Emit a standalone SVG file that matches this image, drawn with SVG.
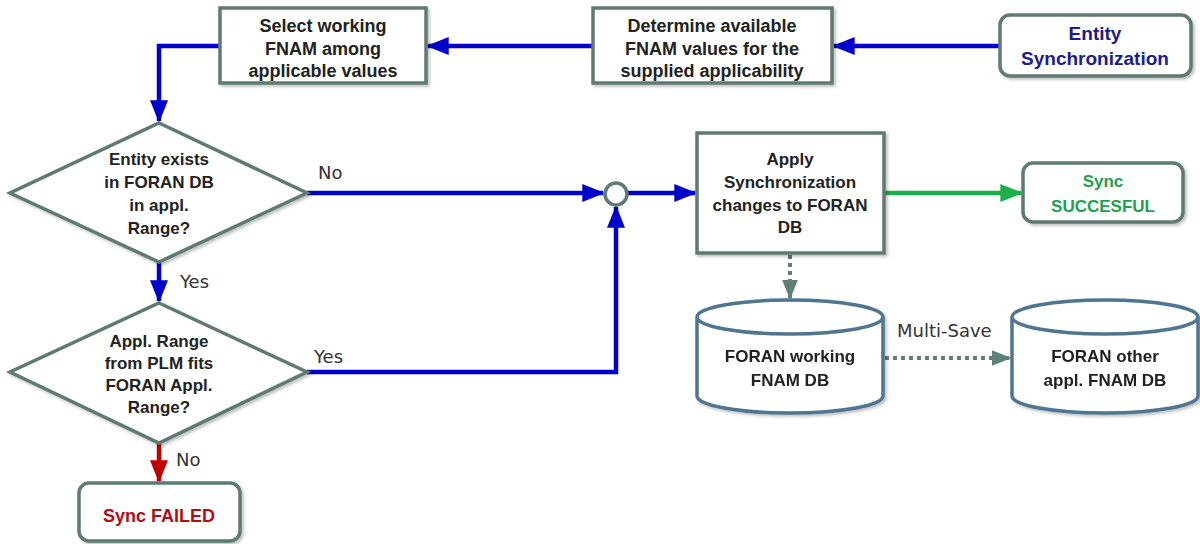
<svg xmlns="http://www.w3.org/2000/svg" width="1200" height="544" viewBox="0 0 1200 544">
<defs>
  <filter id="sh" x="-10%" y="-10%" width="130%" height="130%">
    <feDropShadow dx="2" dy="2" stdDeviation="1.5" flood-color="#000" flood-opacity="0.25"/>
  </filter>
  <marker id="ab" markerWidth="5" markerHeight="4" refX="4.6" refY="2" orient="auto" markerUnits="strokeWidth">
    <path d="M0,0 L5,2 L0,4 Z" fill="#0000cc"/>
  </marker>
  <marker id="ag" markerWidth="5" markerHeight="4" refX="4.6" refY="2" orient="auto" markerUnits="strokeWidth">
    <path d="M0,0 L5,2 L0,4 Z" fill="#1ab04a"/>
  </marker>
  <marker id="ar" markerWidth="5" markerHeight="4" refX="4.6" refY="2" orient="auto" markerUnits="strokeWidth">
    <path d="M0,0 L5,2 L0,4 Z" fill="#c00000"/>
  </marker>
  <marker id="ad" markerWidth="5" markerHeight="4" refX="4.6" refY="2" orient="auto" markerUnits="strokeWidth">
    <path d="M0,0 L5,2 L0,4 Z" fill="#5f7f78"/>
  </marker>
</defs>
<style>
  .box { fill: #fff; stroke: #5f7a72; stroke-width: 3.5; filter: url(#sh); }
  .cyl { fill: #fff; stroke: #4f7590; stroke-width: 3.5; }
  .t { font-family: "Liberation Sans", Arial, sans-serif; font-weight: bold; font-size: 17px; fill: #222; text-anchor: middle; }
  .t18 { font-size: 18px; }
  .lbl { font-family: "DejaVu Sans", Verdana, sans-serif; font-size: 18px; fill: #333; }
  .blue { fill: none; stroke: #0000cc; stroke-width: 4.5; marker-end: url(#ab); }
  .green { fill: none; stroke: #1ab04a; stroke-width: 4.5; marker-end: url(#ag); }
  .red { fill: none; stroke: #c00000; stroke-width: 4.5; marker-end: url(#ar); }
  .dot { fill: none; stroke: #5f7f78; stroke-width: 4; stroke-dasharray: 4 4; marker-end: url(#ad); }
</style>

<g id="connectors">
  <path class="blue" d="M1000,46 L834,46"/>
  <path class="blue" d="M593,46 L428,46"/>
  <path class="blue" d="M220,46 L159,46 L159,121"/>
  <path class="blue" d="M159,262 L159,301"/>
  <path class="red" d="M159,443 L159,481"/>
  <path class="blue" d="M307,193 L603,193"/>
  <path class="blue" d="M307,372 L616,372 L616,207"/>
  <path class="blue" d="M627,193 L695,193"/>
  <path class="green" d="M884,193 L1021,193"/>
  <path class="dot" d="M790,255 L790,298"/>
  <path class="dot" d="M885,358 L1010,358"/>
  <text class="lbl" x="318" y="179">No</text>
  <text class="lbl" x="180" y="288">Yes</text>
  <text class="lbl" x="314" y="363">Yes</text>
  <text class="lbl" x="176" y="466">No</text>
  <text class="lbl" x="897" y="337">Multi-Save</text>
</g>

<g id="entity-sync">
  <rect class="box" x="1000" y="15" width="191" height="61" rx="10"/>
  <text class="t" style="font-size:19px;fill:#1c1c8c" x="1095" y="40">Entity</text>
  <text class="t" style="font-size:19px;fill:#1c1c8c" x="1095" y="65">Synchronization</text>
</g>

<g id="determine">
  <rect class="box" x="593" y="8" width="239" height="75"/>
  <text class="t t18" x="712" y="32">Determine available</text>
  <text class="t t18" x="712" y="55">FNAM values for the</text>
  <text class="t t18" x="712" y="77">supplied applicability</text>
</g>

<g id="select">
  <rect class="box" x="220" y="8" width="206" height="75"/>
  <text class="t t18" x="323" y="32">Select working</text>
  <text class="t t18" x="323" y="55">FNAM among</text>
  <text class="t t18" x="323" y="77">applicable values</text>
</g>

<g id="exists">
  <polygon class="box" points="159,123 307,193 159,262 10,193"/>
  <text class="t" x="159" y="165">Entity exists</text>
  <text class="t" x="159" y="188">in FORAN DB</text>
  <text class="t" x="159" y="211">in appl.</text>
  <text class="t" x="159" y="234">Range?</text>
</g>

<g id="fits">
  <polygon class="box" points="159,303 307,372 159,443 10,372"/>
  <text class="t" x="159" y="347">Appl. Range</text>
  <text class="t" x="159" y="369">from PLM fits</text>
  <text class="t" x="159" y="391">FORAN Appl.</text>
  <text class="t" x="159" y="413">Range?</text>
</g>

<g id="failed">
  <rect class="box" x="79" y="483" width="161" height="58" rx="10"/>
  <text class="t" style="font-size:18px;fill:#b00d15" x="159" y="522">Sync FAILED</text>
</g>

<g id="junction">
  <circle cx="616" cy="194" r="11" fill="#fff" stroke="#5f7a72" stroke-width="3.5"/>
</g>

<g id="apply">
  <rect class="box" x="697" y="133" width="187" height="120"/>
  <text class="t" x="790" y="165">Apply</text>
  <text class="t" x="790" y="188">Synchronization</text>
  <text class="t" x="790" y="211">changes to FORAN</text>
  <text class="t" x="790" y="233">DB</text>
</g>

<g id="success">
  <rect class="box" x="1023" y="163" width="160" height="59" rx="10"/>
  <text class="t" style="fill:#1fa04c" x="1103" y="187">Sync</text>
  <text class="t" style="fill:#1fa04c" x="1103" y="212">SUCCESFUL</text>
</g>

<g id="working-db" filter="url(#sh)">
  <path class="cyl" d="M697,317 L697,396 A93,17 0 0 0 883,396 L883,317 A93,17 0 0 0 697,317 A93,17 0 0 0 883,317"/>
  <text class="t" x="790" y="362">FORAN working</text>
  <text class="t" x="790" y="386">FNAM DB</text>
</g>

<g id="other-db" filter="url(#sh)">
  <path class="cyl" d="M1012,317 L1012,396 A93,17 0 0 0 1198,396 L1198,317 A93,17 0 0 0 1012,317 A93,17 0 0 0 1198,317"/>
  <text class="t" x="1105" y="362">FORAN other</text>
  <text class="t" x="1105" y="386">appl. FNAM DB</text>
</g>
</svg>
